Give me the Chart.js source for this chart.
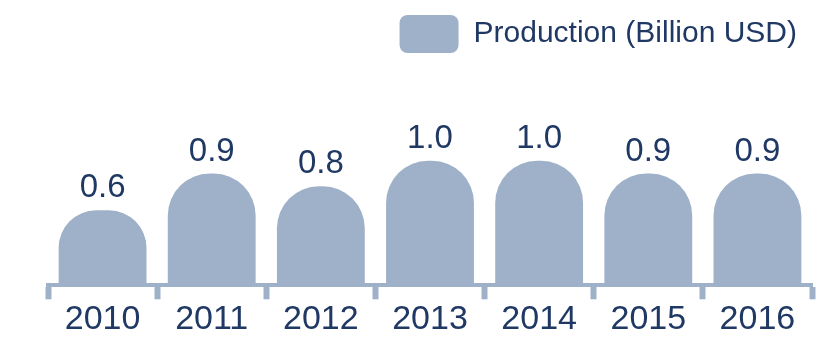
<!DOCTYPE html>
<html>
<head>
<meta charset="utf-8">
<script src="https://cdn.jsdelivr.net/npm/chart.js@4/dist/chart.umd.min.js"></script>
<style>
  html, body { margin: 0; padding: 0; background: #fff; }
  #wrap { width: 838px; height: 339px; }
</style>
</head>
<body>
<div id="wrap"><canvas id="chartProduksi"></canvas></div>
<script>
const years = ['2010', '2011', '2012', '2013', '2014', '2015', '2016'];
const production = [0.59, 0.88, 0.78, 0.98, 0.98, 0.88, 0.88];
const seriesLabel = 'Production (Billion USD)';

const barColor = '#9fb1c9';
const textColor = '#1f3864';
const fontFamily = '"Liberation Sans", Arial, sans-serif';

// tulis angka di atas bar
const valueLabels = {
  id: 'valueLabels',
  afterDatasetsDraw(chart) {
    const ctx = chart.ctx;
    const meta = chart.getDatasetMeta(0);
    ctx.save();
    ctx.fillStyle = textColor;
    ctx.font = '33px ' + fontFamily;
    ctx.textAlign = 'center';
    ctx.textBaseline = 'alphabetic';
    meta.data.forEach((bar, i) => {
      ctx.fillText(production[i].toFixed(1), bar.x, bar.y - 13);
    });
    ctx.restore();
  }
};

new Chart(document.getElementById('chartProduksi'), {
  type: 'bar',
  data: {
    labels: years,
    datasets: [{
      label: seriesLabel,
      data: production,
      backgroundColor: barColor,
      borderRadius: { topLeft: 42, topRight: 42 },
      borderSkipped: 'bottom',
      categoryPercentage: 1,
      barPercentage: 0.805
    }]
  },
  options: {
    responsive: true,
    maintainAspectRatio: false,
    animation: false,
    layout: { padding: { left: 48, right: 26, top: 0, bottom: 0 } },
    plugins: {
      tooltip: { enabled: false },
      legend: {
        position: 'top',
        align: 'end',
        labels: {
          color: textColor,
          font: { size: 30, family: fontFamily },
          boxWidth: 59,
          boxHeight: 38,
          useBorderRadius: true,
          borderRadius: 8,
          padding: 15
        }
      }
    },
    scales: {
      x: {
        border: { display: true, color: barColor, width: 4 },
        grid: {
          offset: true,
          drawOnChartArea: false,
          drawTicks: true,
          tickLength: 14,
          tickWidth: 6,
          tickColor: barColor
        },
        ticks: {
          color: textColor,
          font: { size: 34, family: fontFamily, lineHeight: 1.05 },
          padding: 2
        }
      },
      y: {
        display: false,
        min: 0,
        max: 1.75
      }
    }
  },
  plugins: [valueLabels]
});
</script>
</body>
</html>
